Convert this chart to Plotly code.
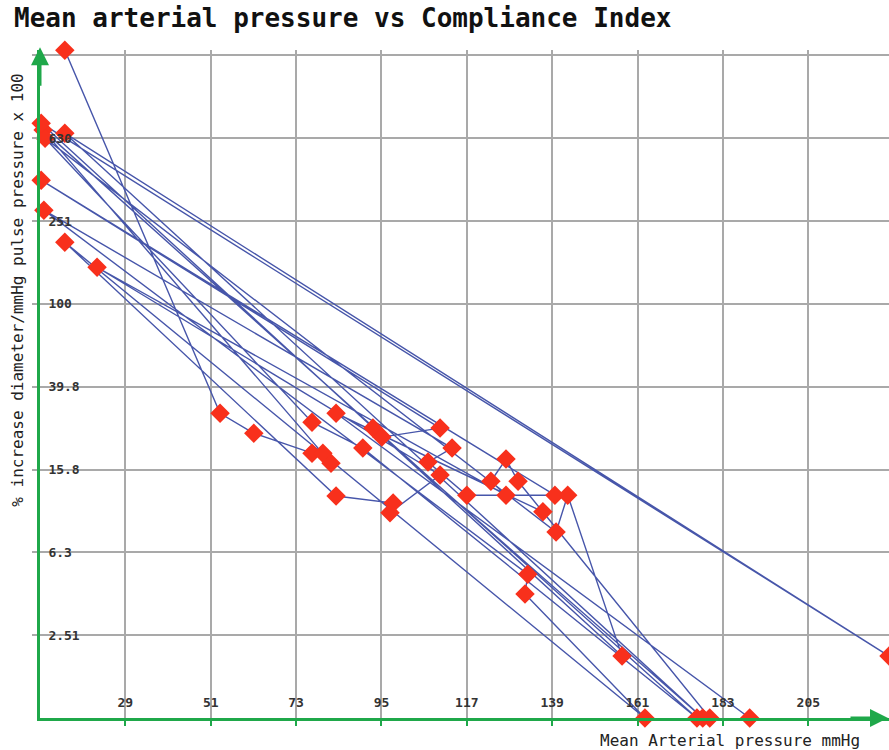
import plotly.graph_objects as go

# Mean arterial pressure (mmHg), in drawing order of the polyline
map_mmhg = [13.4, 53.4, 62.1, 77.1, 79.9, 82.0, 7.8, 176.3, 90.2, 77.1,
            8.3, 140.0, 143.0, 157.0, 7.3, 225.8, 13.4, 177.8, 92.8, 95.1,
            110.1, 7.3, 139.7, 117.0, 107.0, 113.2, 8.0, 132.7, 132.0, 162.9,
            13.4, 83.3, 98.0, 97.2, 110.1, 21.7, 127.1, 123.2, 127.1, 130.2,
            179.6, 136.6, 83.3, 189.9]
# Compliance index (% increase diameter / mmHg pulse pressure x 100)
compliance = [1675, 29.6, 23.7, 19.0, 19.0, 17.0, 689, 1.0, 20.1, 26.8,
              630, 7.9, 11.9, 1.99, 744, 1.99, 666, 1.0, 25.1, 22.7,
              25.1, 395, 11.9, 11.9, 17.2, 20.1, 283, 4.95, 3.97, 1.0,
              198, 11.8, 10.9, 9.8, 14.9, 150, 11.9, 13.9, 17.8, 13.9,
              1.0, 9.9, 29.6, 1.0]

x_ticks = [29, 51, 73, 95, 117, 139, 161, 183, 205]
x_tick_labels = ["29", "51", "73", "95", "117", "139", "161", "183", "205"]
y_ticks = [2.51, 6.3, 15.8, 39.8, 100, 251, 630, 1585]
y_tick_labels = ["2.51", "6.3", "15.8", "39.8", "100", "251", "630", ""]

GREEN = "#1fa84a"
GRID = "#a9a9a9"
FONT = "DejaVu Sans Mono"

fig = go.Figure()
fig.add_trace(go.Scatter(
    x=map_mmhg, y=compliance, mode="lines+markers",
    line=dict(color="#4756aa", width=1.4),
    marker=dict(symbol="diamond", size=15, color="#f8301c",
                line=dict(width=0)),
    cliponaxis=False, showlegend=False,
))

fig.update_layout(
    width=889, height=750,
    margin=dict(l=40, r=0, t=50, b=32, pad=0),
    paper_bgcolor="white", plot_bgcolor="white",
    font=dict(family=FONT, color="#222"),
    xaxis=dict(range=[7, 225.8], tickvals=x_ticks, ticktext=x_tick_labels,
               showgrid=True, gridcolor=GRID, gridwidth=1.5,
               showline=True, linecolor=GREEN, linewidth=3,
               ticks="outside", ticklen=5, tickcolor=GREEN, tickwidth=1.5,
               ticklabelposition="inside", ticklabelstandoff=8,
               zeroline=False, automargin=False,
               tickfont=dict(family=FONT, size=13, color="#333",
                             weight="bold")),
    yaxis=dict(type="log", range=[0, 3.225], tickvals=y_ticks,
               ticktext=y_tick_labels,
               showgrid=True, gridcolor=GRID, gridwidth=1.5,
               showline=True, linecolor=GREEN, linewidth=3,
               ticks="outside", ticklen=5, tickcolor=GRID, tickwidth=1.5,
               ticklabelposition="inside", ticklabelstandoff=8,
               zeroline=False, automargin=False,
               tickfont=dict(family=FONT, size=13, color="#333",
                             weight="bold")),
)

# arrows at the end of the axes
fig.add_annotation(xref="paper", yref="paper", x=0, y=1.004, ax=0, ay=40,
                   axref="pixel", ayref="pixel", showarrow=True, arrowhead=2,
                   arrowsize=1.2, arrowwidth=3, arrowcolor=GREEN, text="")
fig.add_annotation(xref="paper", yref="paper", x=1.0, y=0, ax=-40, ay=0,
                   axref="pixel", ayref="pixel", showarrow=True, arrowhead=2,
                   arrowsize=1.2, arrowwidth=3, arrowcolor=GREEN, text="")

fig.add_annotation(xref="paper", yref="paper", x=-0.033, y=1.048,
                   xanchor="left", yanchor="middle", showarrow=False,
                   text="<b>Mean arterial pressure vs Compliance Index</b>",
                   font=dict(family=FONT, size=26, color="#111"))
fig.add_annotation(xref="paper", yref="paper", x=-0.026, y=0.641,
                   xanchor="center", yanchor="middle", showarrow=False,
                   textangle=-90,
                   text="% increase diameter/mmHg pulse pressure x 100",
                   font=dict(family=FONT, size=16, color="#222"))
fig.add_annotation(xref="paper", yref="paper", x=0.968, y=-0.033,
                   xanchor="right", yanchor="middle", showarrow=False,
                   text="Mean Arterial pressure mmHg",
                   font=dict(family=FONT, size=16, color="#222"))

fig.write_html(
    "out.html",
    config={"displayModeBar": False},
    post_script="document.body.style.margin='0';"
                "document.body.style.overflow='hidden';",
)
